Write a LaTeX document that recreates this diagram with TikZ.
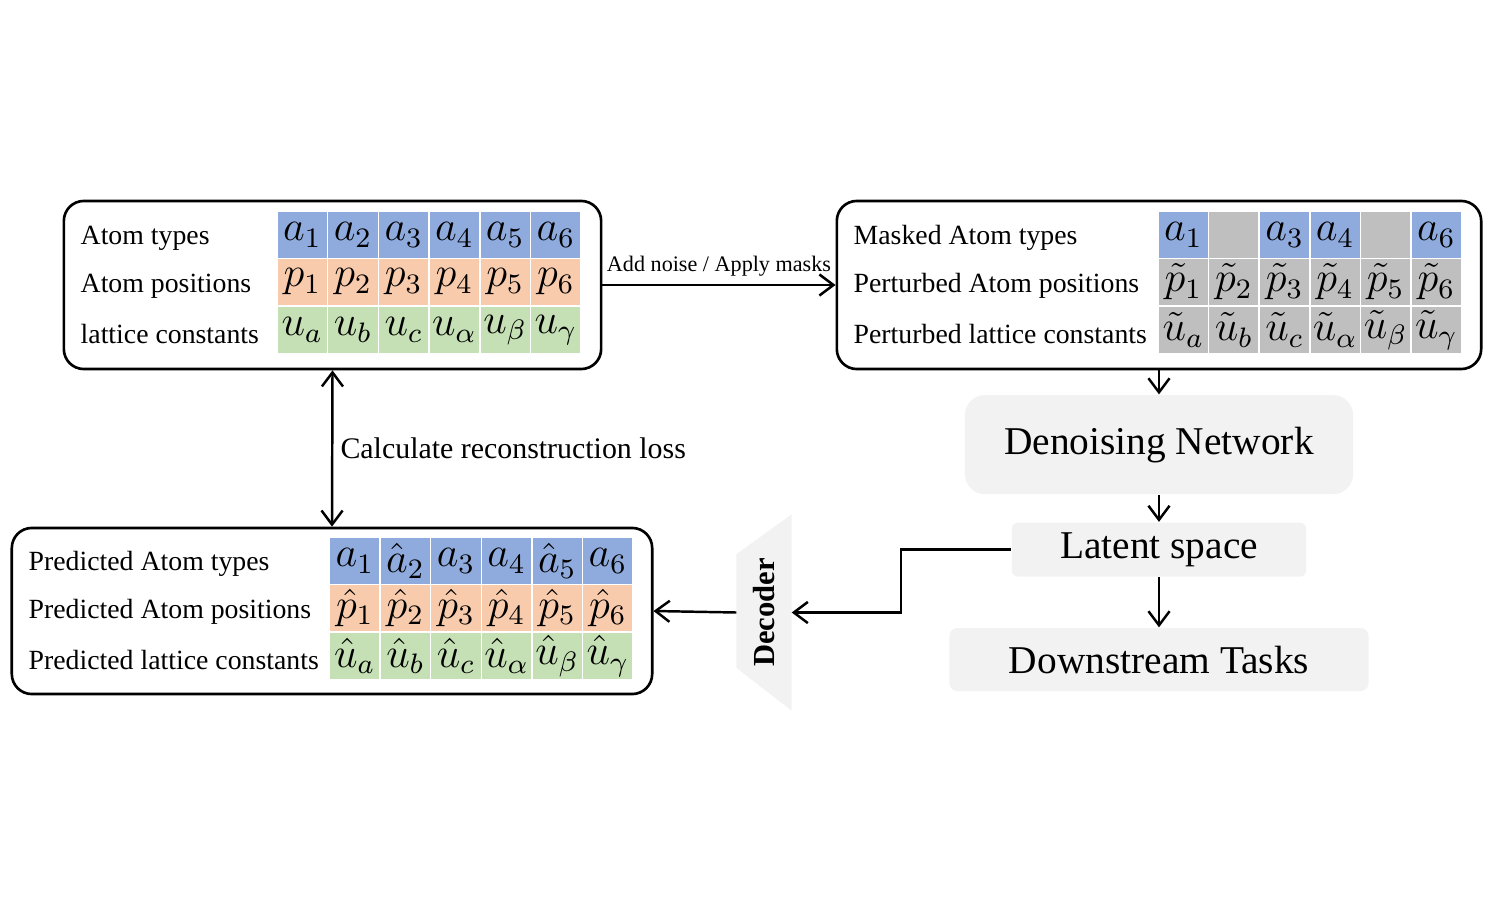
\documentclass[tikz,border=0pt]{standalone}
\usepackage{fontspec}
\setmainfont{Liberation Serif}
\usetikzlibrary{positioning,arrows.meta}
\definecolor{typeblue}{HTML}{8FAADC}
\definecolor{posorange}{HTML}{F8CBAD}
\definecolor{latgreen}{HTML}{C5E0B4}
\definecolor{maskgray}{HTML}{BFBFBF}
\definecolor{panelgray}{HTML}{F2F2F2}
\tikzset{
  panel/.style = {draw, line width=0.75pt, rounded corners=0.2cm, inner sep=0pt},
  block/.style = {fill=panelgray, rounded corners=0.2cm, inner sep=0pt, font=\fontsize{11.2}{13}\selectfont},
  cell/.style  = {minimum width=0.49cm, minimum height=0.46cm, inner sep=0pt, font=\fontsize{12}{12}\selectfont},
  lbl/.style   = {anchor=west, inner sep=0pt, font=\fontsize{7.9}{9}\selectfont},
  arr/.style   = {-{Straight Barb[length=4pt,width=6pt]}, line width=0.7pt}
}
\begin{document}
\begin{tikzpicture}[x=0.01cm, y=-0.01cm]
  \useasboundingbox (0,0) rectangle (1500,900);
  % input crystal
  \node[panel, minimum width=5.37cm, minimum height=1.68cm] (tl) at (332.5,285) {};
  \node[lbl] (tl1) at (80,238) {Atom types};
  \node[lbl] (tl2) at (80,286) {Atom positions};
  \node[lbl] (tl3) at (80,334) {lattice constants};
  \foreach \t [count=\i] in {a_1,a_2,a_3,a_4,a_5,a_6}
    \node[cell, fill=typeblue] (tla\i) at ({302.3+50.7*(\i-1)},235) {$\t$};
  \foreach \t [count=\i] in {p_1,p_2,p_3,p_4,p_5,p_6}
    \node[cell, fill=posorange] (tlp\i) at ({302.3+50.7*(\i-1)},282) {$\t$};
  \foreach \t [count=\i] in {u_a,u_b,u_c,u_\alpha,u_\beta,u_\gamma}
    \node[cell, fill=latgreen] (tlu\i) at ({302.3+50.7*(\i-1)},330) {$\t$};
  % corrupted crystal
  \node[panel, minimum width=6.44cm, minimum height=1.68cm] (tr) at (1159,285) {};
  \node[lbl] (tr1) at (853,238) {Masked Atom types};
  \node[lbl] (tr2) at (853,286) {Perturbed Atom positions};
  \node[lbl] (tr3) at (853,334) {Perturbed lattice constants};
  \foreach \t/\c [count=\i] in {a_1/typeblue,{}/maskgray,a_3/typeblue,a_4/typeblue,{}/maskgray,a_6/typeblue}
    \node[cell, fill=\c] (tra\i) at ({1183.3+50.6*(\i-1)},235) {$\t$};
  \foreach \t [count=\i] in {\tilde{p}_1,\tilde{p}_2,\tilde{p}_3,\tilde{p}_4,\tilde{p}_5,\tilde{p}_6}
    \node[cell, fill=maskgray] (trp\i) at ({1183.3+50.6*(\i-1)},282) {$\t$};
  \foreach \t [count=\i] in {\tilde{u}_a,\tilde{u}_b,\tilde{u}_c,\tilde{u}_\alpha,\tilde{u}_\beta,\tilde{u}_\gamma}
    \node[cell, fill=maskgray] (tru\i) at ({1183.3+50.6*(\i-1)},330) {$\t$};
  % predicted crystal
  \node[panel, minimum width=6.40cm, minimum height=1.66cm] (bl) at (332,611) {};
  \node[lbl] (bl1) at (28,564) {Predicted Atom types};
  \node[lbl] (bl2) at (28,612) {Predicted Atom positions};
  \node[lbl] (bl3) at (28,660) {Predicted lattice constants};
  \foreach \t [count=\i] in {a_1,\hat{a}_2,a_3,a_4,\hat{a}_5,a_6}
    \node[cell, fill=typeblue] (bla\i) at ({354.8+50.6*(\i-1)},561) {$\t$};
  \foreach \t [count=\i] in {\hat{p}_1,\hat{p}_2,\hat{p}_3,\hat{p}_4,\hat{p}_5,\hat{p}_6}
    \node[cell, fill=posorange] (blp\i) at ({354.8+50.6*(\i-1)},608) {$\t$};
  \foreach \t [count=\i] in {\hat{u}_a,\hat{u}_b,\hat{u}_c,\hat{u}_\alpha,\hat{u}_\beta,\hat{u}_\gamma}
    \node[cell, fill=latgreen] (blu\i) at ({354.8+50.6*(\i-1)},656) {$\t$};
  % network
  \node[block, minimum width=3.88cm, minimum height=0.99cm, below=0.24cm of tr] (dn) {Denoising Network};
  \node[block, rounded corners=0.06cm, minimum width=2.94cm, minimum height=0.54cm, below=0.27cm of dn] (lat) {Latent space};
  \node[block, rounded corners=0.08cm, minimum width=4.19cm, minimum height=0.63cm, below=0.50cm of lat] (ds) {Downstream Tasks};
  % decoder
  \node[minimum width=0.54cm, minimum height=1.95cm, inner sep=0pt] (dec) at (764,612.5) {};
  \fill[panelgray] (dec.north east) -- (dec.south east) -- ([yshift=0.43cm]dec.south west) -- ([yshift=-0.40cm]dec.north west) -- cycle;
  \node[rotate=90, font=\fontsize{8.7}{10}\selectfont\bfseries] (dect) at (dec) {Decoder};
  % connectors
  \draw[arr] (tl.east) -- node[above, inner sep=2pt, font=\fontsize{6.3}{7}\selectfont] {Add noise / Apply masks} (tr.west);
  \draw[arr, {Straight Barb[length=4pt,width=6pt]}-{Straight Barb[length=4pt,width=6pt]}] (tl.south) -- node[right, inner sep=2pt, font=\fontsize{8.5}{10}\selectfont] {Calculate reconstruction loss} (bl.north);
  \draw[arr] (tr.south) -- (dn.north);
  \draw[arr] (dn.south) -- (lat.north);
  \draw[arr] (lat.south) -- (ds.north);
  \draw[arr] (lat.west) -- ++(-110,0) |- (dec.east);
  \draw[arr] (dec.west) -- (bl.east);
\end{tikzpicture}
\end{document}
